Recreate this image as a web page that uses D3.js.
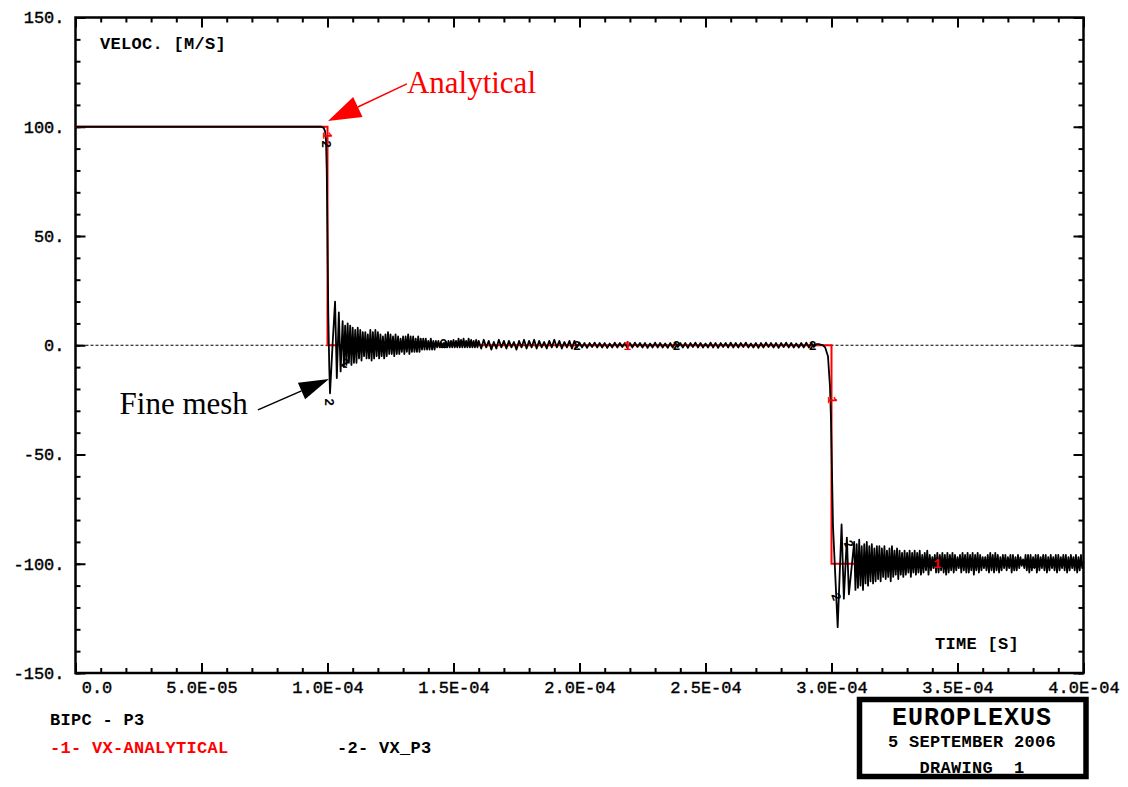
<!DOCTYPE html>
<html>
<head>
<meta charset="utf-8">
<script src="https://cdn.jsdelivr.net/npm/d3@7"></script>
<style>
  body { margin: 0; background: #fff; }
  text { font-family: "Liberation Mono", "DejaVu Sans Mono", monospace; }
</style>
</head>
<body>
<svg id="chart" width="1128" height="787"></svg>
<script>
// -1- analytical solution
const analyticalTime = [0, 1.0e-4, 1.0e-4, 3.0e-4, 3.0e-4, 4.0e-4];
const analyticalVel = [100, 100, 0, 0, -100, -100];

// -2- fine mesh: first front
const meshFrontTime = [0, 0.975e-4, 0.985e-4, 0.99e-4, 0.994e-4, 0.997e-4, 1.0e-4, 1.003e-4, 1.007e-4, 1.01e-4, 1.02e-4, 1.03e-4, 1.037e-4, 1.045e-4, 1.052e-4];
const meshFrontVel = [100, 100, 99.5, 98, 94, 80, 50, 15, -10, -22, 0, 20, -15, 15, -12];

// ringing after first front (one value every 0.5 µs from 1.06e-4)
const ring1Start = 1.06e-4, ring1Step = 0.5e-6;
const ring1Vel = [11, -10, 9, -9, 10, -8, 9, -9, 8, -8,
  7, -8, 8, -6, 7, -7, 6, -5, 6, -6,
  5, -6, 7, -7, 6, -6, 7, -5, 6, -6,
  5, -5, 4, -6, 5, -5, 6, -4, 5, -4,
  4, -5, 5, -4, 4, -4, 3, -3, 4, -4,
  4, -3, 5, -4, 4, -3, 4, -3, 3, -3,
  4, -3, 3, -2, 3, -2, 3, -2, 2, -2,
  3, -2, 2, -2, 2, -1, 2, -1, 1.5, -1,
  1, -1, 1.5, -1, 2, -1, 2, -1, 2.5, -1,
  2, -1, 3, -1, 2.5, -1, 3, -1, 2, -1,
  3, -1, 2.5, -1, 2, -1, 2.5, -1];

// plateau (one value every 1 µs from 1.6e-4)
const ring2Start = 1.6e-4, ring2Step = 1e-6;
const ring2Vel = [2, -1.5, 2.5, -1, 2, -2, 1.5, -1.5, 2.5, -1,
  2, -1.5, 2, -1, 1.5, -2, 2, -1, 2.5, -1.5,
  2, -1, 2.5, -1.5, 2, -1, 1.5, -1.5, 2, -1,
  2.5, -1, 2, -1.5, 1.5, -1, 2, -1.5, 2, -1,
  1.2, -1, 1, -1.2, 1, -0.8, 1.2, -1, 1, -1,
  1, -1.2, 0.8, -1, 1.2, -1, 1, -0.8, 1, -1.2,
  1, -1, 1.2, -0.8, 1, -1, 1, -1.2, 0.8, -1,
  1.2, -1, 1, -1, 0.8, -1.2, 1, -1, 1.2, -0.8,
  1, -1, 1, -1.2, 1, -0.8, 1.2, -1, 1, -1,
  0.8, -1, 1.2, -1, 1, -1.2, 1, -0.8, 1, -1,
  1.2, -1, 1, -1, 1, -0.8, 1.2, -1, 0.8, -1,
  1, -1.2, 1, -1, 1.2, -0.8, 1, -1, 1, -1.2,
  1, -0.8, 1.2, -1, 1, -1, 0.8, -1, 1, -1,
  1.2, -1, 1, -0.8, 0.5];

// second front
const meshBackTime = [2.95e-4, 2.966e-4, 2.975e-4, 2.986e-4, 2.994e-4, 2.998e-4, 3.006e-4, 3.0245e-4, 3.04e-4, 3.049e-4, 3.061e-4, 3.069e-4];
const meshBackVel = [0.5, 0, -1, -5, -19, -34, -83, -129, -82, -116, -88, -114];

// ringing around -100 (one value every 0.5 µs from 3.09e-4)
const ring3Start = 3.09e-4, ring3Step = 0.5e-6;
const ring3Vel = [-90, -112, -91, -111, -89, -110, -92, -112, -91, -109,
  -90, -110, -92, -108, -91, -109, -93, -108, -92, -107,
  -92, -108, -93, -106, -92, -107, -94, -106, -93, -108,
  -92, -106, -94, -105, -93, -107, -94, -105, -95, -106,
  -94, -105, -95, -104, -94, -106, -95, -104, -94, -105,
  -95, -104, -94, -105, -96, -104, -95, -103, -94, -105,
  -96, -103, -97, -102, -96, -104, -95, -104, -96, -103,
  -95, -104, -96, -105, -95, -104, -96, -103, -95, -104,
  -96, -103, -97, -102, -96, -104, -95, -103, -96, -104,
  -95, -104, -96, -103, -95, -105, -96, -103, -95, -104,
  -96, -103, -97, -102, -97, -103, -96, -104, -95, -103,
  -96, -104, -95, -103, -96, -104, -97, -103, -96, -102,
  -96, -103, -97, -102, -96, -104, -96, -103, -97, -103,
  -96, -102, -97, -101, -98, -102, -96, -103, -96, -104,
  -96, -103, -97, -102, -96, -104, -96, -103, -97, -102,
  -96, -103, -96, -104, -97, -103, -96, -102, -97, -103,
  -96, -104, -96, -103, -97, -102, -96, -103, -96, -104,
  -97, -103, -96, -102, -97, -103, -96, -104, -97, -103,
  -96, -102, -99];

// curve labels: [time, velocity, rotation]
const analyticalMarks = [[1.0e-4, 96, 90], [2.19e-4, 0, 0], [3.005e-4, -25, 90], [3.42e-4, -100, 0]];
const meshMarks = [[0.996e-4, 92, 90], [1.01e-4, -26, 90], [1.07e-4, -8, 20], [1.46e-4, 1, 0], [1.99e-4, 0, 0],
  [2.385e-4, 0, 0], [2.925e-4, 0, 0], [3.02e-4, -115, 70], [3.07e-4, -91, 60], [3.8e-4, -100, 0]];

const xMajorTicks = [0, 5e-5, 1e-4, 1.5e-4, 2e-4, 2.5e-4, 3e-4, 3.5e-4, 4e-4];
const yMajorTicks = [-150, -100, -50, 0, 50, 100, 150];

let svg = d3.select("#chart");

let x = d3.scaleLinear().domain([0, 4e-4]).range([75.5, 1083.5]);
let y = d3.scaleLinear().domain([-150, 150]).range([673, 17.5]);

let pairs = (ts, vs) => ts.map((t, i) => [t, vs[i]]);
let sampled = (t0, dt, vs) => vs.map((v, i) => [t0 + i * dt, v]);

let analytical = pairs(analyticalTime, analyticalVel);
let mesh = [
  ...pairs(meshFrontTime, meshFrontVel),
  ...sampled(ring1Start, ring1Step, ring1Vel),
  ...sampled(ring2Start, ring2Step, ring2Vel),
  ...pairs(meshBackTime, meshBackVel),
  ...sampled(ring3Start, ring3Step, ring3Vel)
];

let fmtX = (d) => d === 0 ? "0.0" : d.toExponential(1).toUpperCase().replace(/E([+-])(\d)$/, "E$10$2");

// minor and major ticks on all four sides, pointing inward
let tickStyle = (g) => {
  g.select(".domain").remove();
  g.selectAll("line").attr("stroke", "#000").attr("stroke-width", 2);
  g.attr("font-family", "Liberation Mono").attr("font-size", 17);
  g.selectAll("text").attr("fill", "#000").attr("stroke", "#000").attr("stroke-width", 0.4);
};

svg.append("g").attr("transform", `translate(0,${y(-150)})`)
  .call(d3.axisBottom(x).ticks(40).tickSize(-5).tickFormat("")).call(tickStyle);
svg.append("g").attr("transform", `translate(0,${y(-150)})`)
  .call(d3.axisBottom(x).tickValues(xMajorTicks).tickSize(-10).tickFormat(fmtX)).call(tickStyle)
  .call((g) => {
    g.selectAll("text").attr("y", 8).attr("dy", "0.71em");
    g.selectAll("text").filter((d) => d === 0).attr("dx", 21);
  });
svg.append("g").attr("transform", `translate(0,${y(150)})`)
  .call(d3.axisTop(x).ticks(40).tickSize(-5).tickFormat("")).call(tickStyle);
svg.append("g").attr("transform", `translate(0,${y(150)})`)
  .call(d3.axisTop(x).tickValues(xMajorTicks).tickSize(-10).tickFormat("")).call(tickStyle);

svg.append("g").attr("transform", `translate(${x(0)},0)`)
  .call(d3.axisLeft(y).ticks(30).tickSize(-5).tickFormat("")).call(tickStyle);
svg.append("g").attr("transform", `translate(${x(0)},0)`)
  .call(d3.axisLeft(y).tickValues(yMajorTicks).tickSize(-10).tickFormat((d) => d + ".")).call(tickStyle)
  .call((g) => g.selectAll("text").attr("x", -11));
svg.append("g").attr("transform", `translate(${x(4e-4)},0)`)
  .call(d3.axisRight(y).ticks(30).tickSize(-5).tickFormat("")).call(tickStyle);
svg.append("g").attr("transform", `translate(${x(4e-4)},0)`)
  .call(d3.axisRight(y).tickValues(yMajorTicks).tickSize(-10).tickFormat("")).call(tickStyle);

// frame
svg.append("rect")
  .attr("x", x(0)).attr("y", y(150))
  .attr("width", x(4e-4) - x(0)).attr("height", y(-150) - y(150))
  .attr("fill", "none").attr("stroke", "#000").attr("stroke-width", 2.5);

// zero line
svg.append("line")
  .attr("x1", x(0)).attr("x2", x(4e-4))
  .attr("y1", y(0)).attr("y2", y(0))
  .attr("stroke", "#000").attr("stroke-width", 1.2)
  .attr("stroke-dasharray", "3,2");

let line = d3.line().x((d) => x(d[0])).y((d) => y(d[1]));

svg.append("path").datum(analytical)
  .attr("d", line).attr("fill", "none")
  .attr("stroke", "#ff0000").attr("stroke-width", 2);

svg.append("path").datum(mesh)
  .attr("d", line).attr("fill", "none")
  .attr("stroke", "#000").attr("stroke-width", 1.8)
  .attr("stroke-linejoin", "round");

let drawMarks = (marks, label, color) => {
  svg.append("g").selectAll("text").data(marks).enter()
    .append("text")
    .attr("transform", (d) => `translate(${x(d[0])},${y(d[1])}) rotate(${d[2]})`)
    .attr("text-anchor", "middle")
    .attr("dy", "0.35em")
    .attr("font-size", 13)
    .attr("font-weight", "bold")
    .attr("fill", color)
    .text(label);
};
drawMarks(analyticalMarks, "1", "#ff0000");
drawMarks(meshMarks, "2", "#000");

// axis titles
let label = (txt, px, py, opts = {}) => svg.append("text")
  .attr("x", px).attr("y", py)
  .attr("font-size", opts.size || 17)
  .attr("font-weight", "bold")
  .attr("text-anchor", opts.anchor || "start")
  .attr("letter-spacing", opts.spacing || 0.3)
  .attr("fill", opts.color || "#000")
  .attr("xml:space", "preserve")
  .text(txt);

label("VELOC. [M/S]", 100, 49);
label("TIME [S]", 935, 649);
label("BIPC - P3", 50, 725);
label("-1- VX-ANALYTICAL", 50, 753, { color: "#ff0000" });
label("-2- VX_P3", 337, 753);

// stamp box
svg.append("rect")
  .attr("x", 859.5).attr("y", 699.5).attr("width", 226.5).attr("height", 77)
  .attr("fill", "none").attr("stroke", "#000").attr("stroke-width", 5.5);
label("EUROPLEXUS", 972, 725, { size: 25, anchor: "middle", spacing: 1 });
label("5 SEPTEMBER 2006", 972, 747, { anchor: "middle" });
label("DRAWING  1", 972, 773, { anchor: "middle" });

// annotations with arrows
const notes = [
  { text: "Analytical", color: "#ff0000", tip: [1.002e-4, 102.6], tail: [1.315e-4, 119.6], at: [1.315e-4, 115.3], anchor: "start", head: [33, 11] },
  { text: "Fine mesh", color: "#000", tip: [1.006e-4, -15.4], tail: [0.724e-4, -29.6], at: [0.684e-4, -31.5], anchor: "end", head: [30, 9] }
];

notes.forEach((n) => {
  let tx = x(n.tip[0]), ty = y(n.tip[1]);
  let sx = x(n.tail[0]), sy = y(n.tail[1]);
  let len = Math.hypot(tx - sx, ty - sy);
  let ux = (tx - sx) / len, uy = (ty - sy) / len;
  let [hl, hw] = n.head;
  let bx = tx - ux * hl, by = ty - uy * hl;

  svg.append("line")
    .attr("x1", sx).attr("y1", sy).attr("x2", bx).attr("y2", by)
    .attr("stroke", n.color).attr("stroke-width", 1.5);
  svg.append("path")
    .attr("d", `M${tx},${ty} L${bx - uy * hw},${by + ux * hw} L${bx + uy * hw},${by - ux * hw} Z`)
    .attr("fill", n.color);
  svg.append("text")
    .attr("x", x(n.at[0])).attr("y", y(n.at[1]))
    .attr("text-anchor", n.anchor)
    .style("font-family", "'Liberation Serif', serif")
    .attr("font-size", 31)
    .attr("fill", n.color)
    .text(n.text);
});
</script>
</body>
</html>
